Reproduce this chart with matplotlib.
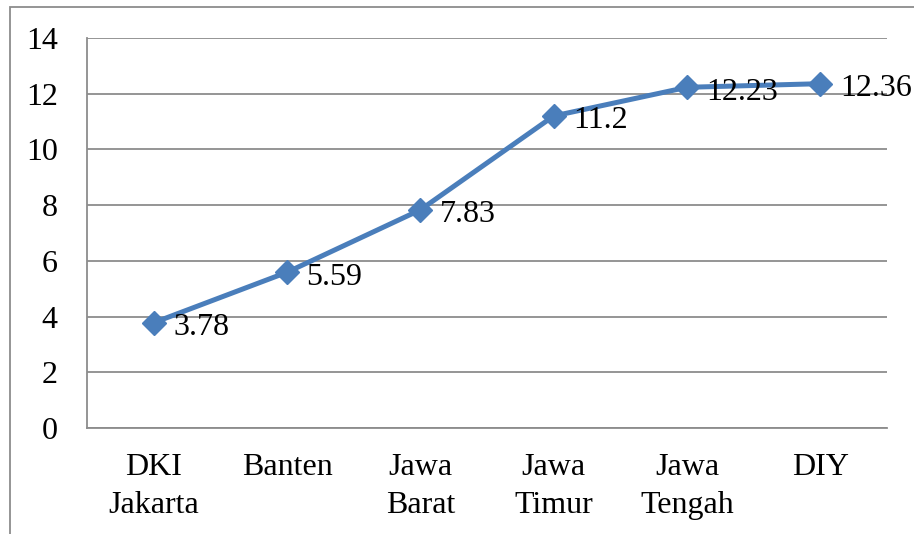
"""
Line chart: values per province (DKI Jakarta .. DIY)
"""

import matplotlib
matplotlib.use("Agg")
import matplotlib.pyplot as plt
from matplotlib.patches import Rectangle


# -------------------------------------------------
# Data
# -------------------------------------------------

provinces = ["DKI\nJakarta", "Banten", "Jawa\nBarat", "Jawa\nTimur", "Jawa\nTengah", "DIY"]
values = [3.78, 5.59, 7.83, 11.2, 12.23, 12.36]
value_labels = ["3.78", "5.59", "7.83", "11.2", "12.23", "12.36"]
y_ticks = [0, 2, 4, 6, 8, 10, 12, 14]


# -------------------------------------------------
# Plot
# -------------------------------------------------

def main():
    plt.rcParams["font.family"] = ["Liberation Serif", "DejaVu Serif"]

    fig = plt.figure(figsize=(9.14, 5.34), dpi=100)
    ax = fig.add_axes([87 / 914, 1 - 428 / 534, 800 / 914, 390 / 534])

    # chart frame (cut off at right and bottom in the original)
    fig.patches.append(Rectangle((10 / 914, -0.1), 1.2, 1 - 7 / 534 + 0.1,
                                 transform=fig.transFigure, fill=False,
                                 edgecolor="#8c8c8c", linewidth=1.3))

    x = list(range(len(provinces)))
    ax.plot(x, values, color="#4a7ebb", linewidth=3.6, marker="D",
            markersize=12, zorder=3, clip_on=False)

    for xi, v, lab in zip(x, values, value_labels):
        ax.annotate(lab, (xi, v), xytext=(14, -1), textcoords="offset points",
                    ha="left", va="center_baseline", fontsize=23, color="black",
                    zorder=4, annotation_clip=False)

    ax.set_xlim(-0.5, len(provinces) - 0.5)
    ax.set_ylim(0, 14)
    ax.set_yticks(y_ticks)
    ax.set_xticks(x)
    ax.set_xticklabels(provinces, linespacing=1.4)
    ax.tick_params(axis="both", length=0, labelsize=23, colors="black")
    ax.tick_params(axis="x", pad=18)
    ax.tick_params(axis="y", pad=21)

    ax.grid(axis="y", color="#8c8c8c", linewidth=1.3)
    ax.set_axisbelow(True)
    for side in ["top", "right"]:
        ax.spines[side].set_visible(False)
    for side in ["left", "bottom"]:
        ax.spines[side].set_color("#8c8c8c")
        ax.spines[side].set_linewidth(1.3)

    fig.savefig("out.png", dpi=100)


if __name__ == "__main__":
    main()
